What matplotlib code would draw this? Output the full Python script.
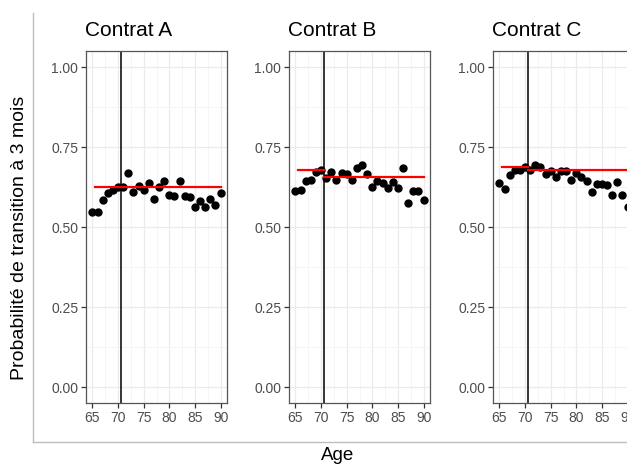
import numpy as np
import matplotlib.pyplot as plt
from matplotlib.ticker import MultipleLocator

plt.rcParams['font.family'] = ['Liberation Sans', 'DejaVu Sans']

ages = list(range(65, 91))
cutoff = 70.5

contrats = ["Contrat A", "Contrat B", "Contrat C"]

prob_a = [0.547, 0.547, 0.585, 0.605, 0.615, 0.626, 0.626, 0.669, 0.610, 0.628,
          0.617, 0.638, 0.586, 0.626, 0.643, 0.600, 0.598, 0.643, 0.598, 0.594,
          0.562, 0.582, 0.564, 0.589, 0.569, 0.606]
prob_b = [0.614, 0.617, 0.643, 0.646, 0.672, 0.677, 0.654, 0.672, 0.646, 0.670,
          0.666, 0.646, 0.684, 0.693, 0.666, 0.625, 0.643, 0.639, 0.621, 0.641,
          0.623, 0.685, 0.575, 0.614, 0.612, 0.584]
prob_c = [0.638, 0.620, 0.664, 0.678, 0.678, 0.687, 0.677, 0.695, 0.687, 0.667,
          0.675, 0.655, 0.676, 0.674, 0.646, 0.669, 0.657, 0.644, 0.608, 0.634,
          0.634, 0.630, 0.599, 0.642, 0.600, 0.561]

# fitted levels before / after the cutoff
fit_left = [0.625, 0.677, 0.687]
fit_right = [0.625, 0.655, 0.678]
fit_start, fit_end = 65.5, 90

series = [prob_a, prob_b, prob_c]

W, H = 627, 465
fig = plt.figure(figsize=(W / 100, H / 100), dpi=100)

# outer frame (left and bottom grey lines)
frame = fig.add_axes([33 / W, (H - 442) / H, (W - 33) / W, (442 - 13) / H])
frame.set_xticks([])
frame.set_yticks([])
for side in ["top", "right"]:
    frame.spines[side].set_visible(False)
for side in ["left", "bottom"]:
    frame.spines[side].set_color("#bdbdbd")
    frame.spines[side].set_linewidth(1.0)
frame.patch.set_alpha(0)

lefts = [86, 289, 493]
pw, top, bottom = 141, 51, 403

for left, title, vals, fl, fr in zip(lefts, contrats, series, fit_left, fit_right):
    ax = fig.add_axes([left / W, (H - bottom) / H, pw / W, (bottom - top) / H])
    ax.set_xlim(63.75, 91.25)
    ax.set_ylim(-0.05, 1.05)
    ax.xaxis.set_major_locator(MultipleLocator(5))
    ax.xaxis.set_minor_locator(MultipleLocator(2.5))
    ax.yaxis.set_major_locator(MultipleLocator(0.25))
    ax.yaxis.set_minor_locator(MultipleLocator(0.125))
    ax.yaxis.set_major_formatter(plt.FuncFormatter(lambda v, p: f"{v:.2f}"))
    ax.grid(which="major", color="#ebebeb", linewidth=0.9)
    ax.grid(which="minor", color="#f4f4f4", linewidth=0.6)
    ax.set_axisbelow(True)
    for s in ax.spines.values():
        s.set_color("#555555")
        s.set_linewidth(0.9)
    ax.tick_params(which="major", length=3.5, width=0.9, color="#333333",
                   labelsize=10, labelcolor="#4d4d4d", pad=2)
    ax.tick_params(which="minor", length=0)

    ax.axvline(cutoff, color="black", linewidth=1.1, zorder=2)
    ax.plot(ages, vals, "o", color="black", markersize=5, zorder=3)
    ax.plot([fit_start, cutoff], [fl, fl], color="red", linewidth=1.6, zorder=4)
    ax.plot([cutoff, fit_end], [fr, fr], color="red", linewidth=1.6, zorder=4)

    fig.text((left - 1) / W, (H - 31) / H, title, fontsize=15, ha="left", va="center")

fig.text(338 / W, (H - 455) / H, "Age", fontsize=13.5, ha="center", va="center")
fig.text(20 / W, (H - 238) / H, "Probabilité de transition à 3 mois",
         fontsize=14, rotation=90, ha="center", va="center")

fig.savefig("out.png", dpi=100)
